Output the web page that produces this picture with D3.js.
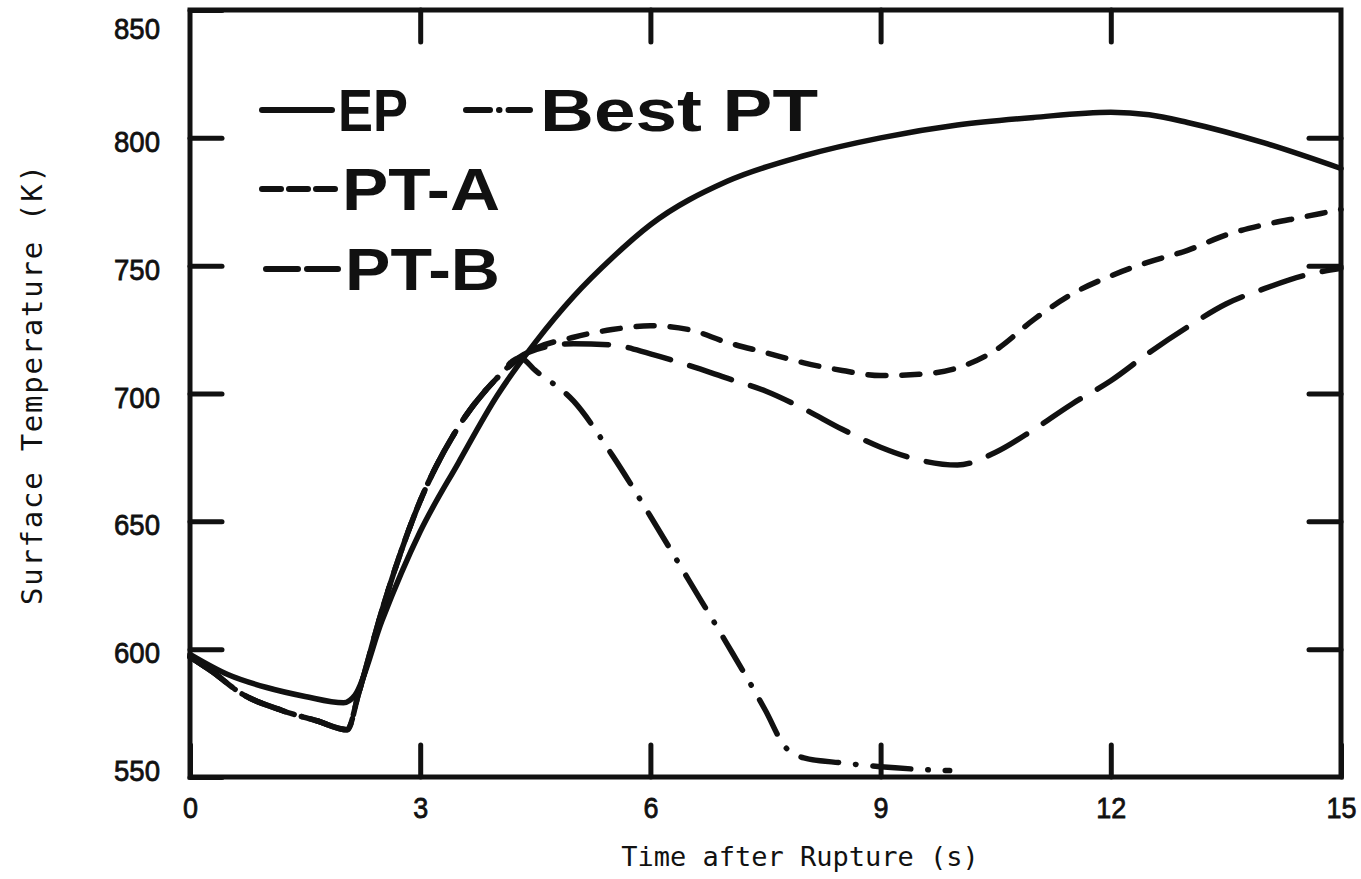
<!DOCTYPE html>
<html lang="en">
<head>
<meta charset="UTF-8" />
<title>Surface Temperature</title>
<script src="https://cdn.jsdelivr.net/npm/d3@7/dist/d3.min.js"></script>
<style>
  body { margin: 0; background: #fff; }
  .tick text { font-family: "Liberation Sans", Arial, sans-serif; font-size: 30px; fill: #111; stroke: #111; stroke-width: 0.8px; }
  .title { font-family: "DejaVu Sans Mono", "Liberation Mono", monospace; font-size: 27px; fill: #111; }
  .legend text { font-family: "Liberation Sans", Arial, sans-serif; font-weight: bold; font-size: 60px; fill: #111; }
</style>
</head>
<body>
<svg id="chart" width="1361" height="879"></svg>
<script>
// time (s) / surface temperature (K) for each curve
const epTime = [0, 0.5, 1, 1.5, 2, 2.15, 2.5, 3, 3.5, 4, 4.5, 5, 5.5, 6, 7, 8, 9, 10, 11, 12, 12.5, 13, 14, 15];
const epTemp = [598, 590, 585, 581.5, 579, 582, 611, 646, 673, 699, 720, 738, 753, 766, 783, 793, 800, 805, 808, 810, 809, 806, 798, 788];

const ptaTime = [0, 0.3, 0.65, 1.2, 1.65, 2.05, 2.2, 2.5, 3, 3.5, 4, 4.4, 5, 5.5, 6, 6.5, 7, 7.5, 8, 8.5, 9, 9.5, 10, 10.5, 11, 11.5, 12, 12.5, 13, 13.5, 14, 14.5, 15];
const ptaTemp = [597, 591, 583, 576, 572, 568.5, 583, 615, 658, 687, 706, 716, 722, 725, 726.5, 725, 720, 716, 712, 709, 707, 707.5, 710, 717, 729, 739, 746, 751.5, 756, 762, 766, 769, 772];

const ptbTime = [0, 0.3, 0.65, 1.2, 1.65, 2.05, 2.2, 2.5, 3, 3.5, 4, 4.4, 5, 5.5, 6, 6.5, 7, 7.5, 8, 8.5, 9, 9.5, 10, 10.5, 11, 11.5, 12, 12.5, 13, 13.5, 14, 14.5, 15];
const ptbTemp = [597, 591, 583, 576, 572, 568.5, 583, 615, 658, 687, 706, 716, 719.5, 719, 715.5, 711, 706, 701, 694, 686, 679, 674, 672, 677, 686, 696, 705, 716, 726, 735, 741, 746, 749];

const bestTime = [0, 0.3, 0.65, 1.2, 1.65, 2.05, 2.2, 2.5, 3, 3.5, 4, 4.3, 4.5, 5, 5.5, 6, 6.5, 7, 7.5, 7.75, 8, 8.5, 9, 9.5, 9.9];
const bestTemp = [597, 591, 583, 576, 572, 568.5, 583, 615, 658, 687, 706, 714, 709, 697, 676, 652, 627, 602, 576, 562, 557.5, 555.5, 554, 553, 552.5];

const xTicks = [0, 3, 6, 9, 12, 15];
const yTicks = [550, 600, 650, 700, 750, 800, 850];

const svg = d3.select('#chart');
const plotLeft = 190, plotRight = 1341, plotTop = 10, plotBottom = 777;

const x = d3.scaleLinear().domain([0, 15]).range([plotLeft, plotRight]);
const y = d3.scaleLinear().domain([550, 850]).range([plotBottom, plotTop]);

// plot frame
svg.append('rect')
  .attr('x', plotLeft).attr('y', plotTop)
  .attr('width', plotRight - plotLeft).attr('height', plotBottom - plotTop)
  .attr('fill', 'none').attr('stroke', '#111').attr('stroke-width', 5);

function styleAxis(g) {
  g.select('.domain').remove();
  g.selectAll('.tick line')
    .attr('stroke', '#111').attr('stroke-width', 5).attr('stroke-linecap', 'round');
}

const yAxis = svg.append('g')
  .attr('transform', `translate(${plotLeft},0)`)
  .call(d3.axisLeft(y).tickValues(yTicks).tickSize(-32).tickPadding(30))
  .call(styleAxis);
// top and bottom labels sit inside the frame corners
yAxis.selectAll('.tick text')
  .attr('dy', d => d === 850 ? '0.95em' : d === 550 ? '0.1em' : '0.45em')
  .attr('textLength', 46).attr('lengthAdjust', 'spacingAndGlyphs');

svg.append('g')
  .attr('transform', `translate(${plotRight},0)`)
  .call(d3.axisRight(y).tickValues(yTicks.slice(1, -1)).tickSize(-32).tickFormat(''))
  .call(styleAxis);

const xAxis = svg.append('g')
  .attr('transform', `translate(0,${plotBottom})`)
  .call(d3.axisBottom(x).tickValues(xTicks).tickSize(-32).tickPadding(20))
  .call(styleAxis);
xAxis.selectAll('.tick text')
  .attr('textLength', d => d >= 10 ? 30 : 15).attr('lengthAdjust', 'spacingAndGlyphs');

svg.append('g')
  .attr('transform', `translate(0,${plotTop})`)
  .call(d3.axisTop(x).tickValues(xTicks.slice(1, -1)).tickSize(-32).tickFormat(''))
  .call(styleAxis);

// axis titles
svg.append('text').attr('class', 'title')
  .attr('x', 800).attr('y', 866).attr('text-anchor', 'middle')
  .text('Time after Rupture (s)');

svg.append('text').attr('class', 'title')
  .attr('transform', 'translate(42,385) rotate(-90)')
  .attr('text-anchor', 'middle')
  .attr('textLength', 440).attr('lengthAdjust', 'spacing')
  .style('font-size', '29px')
  .text('Surface Temperature (K)');

// curves
const line = d3.line()
  .x(d => x(d[0]))
  .y(d => y(d[1]))
  .curve(d3.curveMonotoneX);

const series = [
  { t: epTime, v: epTemp, dash: null },
  { t: ptaTime, v: ptaTemp, dash: '18,16' },
  { t: ptbTime, v: ptbTemp, dash: '44,20' },
  { t: bestTime, v: bestTemp, dash: '38,17,0.5,17' }
];

svg.append('g').selectAll('path')
  .data(series)
  .join('path')
  .attr('d', s => line(d3.zip(s.t, s.v)))
  .attr('fill', 'none')
  .attr('stroke', '#111')
  .attr('stroke-width', 5.5)
  .attr('stroke-linecap', 'round')
  .attr('stroke-linejoin', 'round')
  .attr('stroke-dasharray', s => s.dash);

// legend
const legend = svg.append('g').attr('class', 'legend');
const legendItems = [
  { label: 'EP', x: 262, len: 70, y: 131, textX: 338, textLen: 70, dash: null },
  { label: 'Best PT', x: 466, len: 64, y: 131, textX: 540, textLen: 278, dash: '24,9,0.5,9' },
  { label: 'PT-A', x: 262, len: 73, y: 210, textX: 342, textLen: 158, dash: '19,8' },
  { label: 'PT-B', x: 266, len: 72, y: 290, textX: 345, textLen: 155, dash: '32,9' }
];

legendItems.forEach(d => {
  legend.append('line')
    .attr('x1', d.x).attr('x2', d.x + d.len)
    .attr('y1', d.y - 21).attr('y2', d.y - 21)
    .attr('stroke', '#111').attr('stroke-width', 6)
    .attr('stroke-linecap', 'round')
    .attr('stroke-dasharray', d.dash);
  legend.append('text')
    .attr('x', d.textX).attr('y', d.y)
    .attr('textLength', d.textLen).attr('lengthAdjust', 'spacingAndGlyphs')
    .text(d.label);
});
</script>
</body>
</html>
